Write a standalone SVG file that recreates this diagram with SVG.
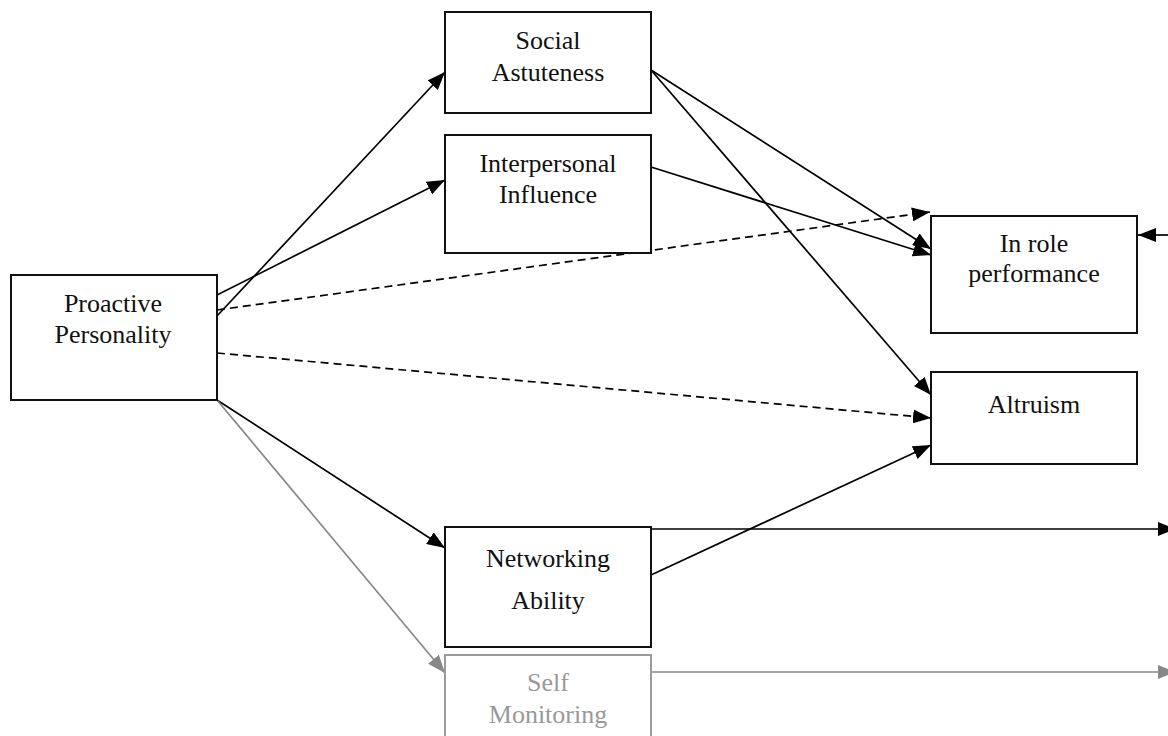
<svg xmlns="http://www.w3.org/2000/svg" width="1168" height="736" viewBox="0 0 1168 736">
<defs>
<style>
.box{fill:#fff;stroke:#111;stroke-width:2}
.gbox{fill:#fff;stroke:#9a9a9a;stroke-width:2}
.t{font-family:"Liberation Serif","Times New Roman",serif;font-size:26px;fill:#111;text-anchor:middle}
.gt{fill:#999}
.c{stroke:#000;stroke-width:1.7;fill:none;marker-end:url(#ah)}
.d{stroke-dasharray:8 5}
.g{stroke:#888;marker-end:url(#gh)}
</style>
<marker id="ah" viewBox="0 0 18 14" refX="18" refY="7" markerWidth="18" markerHeight="14" markerUnits="userSpaceOnUse" orient="auto"><path d="M0,0 L18,7 L0,14 Z" fill="#000"/></marker>
<marker id="gh" viewBox="0 0 18 14" refX="18" refY="7" markerWidth="18" markerHeight="14" markerUnits="userSpaceOnUse" orient="auto"><path d="M0,0 L18,7 L0,14 Z" fill="#888"/></marker>
</defs>
<rect width="1168" height="736" fill="#fff"/>
<g id="connectors">
<line class="c" x1="217" y1="316" x2="445" y2="72"/>
<line class="c" x1="217" y1="295" x2="445" y2="180"/>
<line class="c d" x1="217" y1="310" x2="930" y2="212"/>
<line class="c d" x1="217" y1="353" x2="931" y2="418"/>
<line class="c" x1="651" y1="70" x2="931" y2="249"/>
<line class="c" x1="651" y1="70" x2="931" y2="395"/>
<line class="c" x1="651" y1="167" x2="931" y2="255"/>
<line class="c" x1="651" y1="575" x2="931" y2="445"/>
<line class="c" x1="651" y1="529" x2="1176" y2="529"/>
<line class="c" x1="1168" y1="235" x2="1138" y2="235"/>
<line class="c" x1="217" y1="400" x2="445" y2="548"/>
<line class="c g" x1="217" y1="400" x2="445" y2="673"/>
<line class="c g" x1="651" y1="672" x2="1176" y2="672"/>
</g>
<g id="social-astuteness"><rect class="box" x="445" y="12" width="206" height="101"/><text class="t" x="548" y="49">Social</text><text class="t" x="548" y="81">Astuteness</text></g>
<g id="interpersonal-influence"><rect class="box" x="445" y="135" width="206" height="118"/><text class="t" x="548" y="172">Interpersonal</text><text class="t" x="548" y="203">Influence</text></g>
<g id="proactive-personality"><rect class="box" x="11" y="275" width="206" height="125"/><text class="t" x="113" y="312">Proactive</text><text class="t" x="113" y="343">Personality</text></g>
<g id="in-role-performance"><rect class="box" x="931" y="216" width="206" height="117"/><text class="t" x="1034" y="252">In role</text><text class="t" x="1034" y="282">performance</text></g>
<g id="altruism"><rect class="box" x="931" y="372" width="206" height="92"/><text class="t" x="1034" y="413">Altruism</text></g>
<g id="networking-ability"><rect class="box" x="445" y="527" width="206" height="120"/><text class="t" x="548" y="567">Networking</text><text class="t" x="548" y="609">Ability</text></g>
<g id="self-monitoring"><rect class="gbox" x="445" y="655" width="206" height="100"/><text class="t gt" x="548" y="691">Self</text><text class="t gt" x="548" y="723">Monitoring</text></g>
</svg>
